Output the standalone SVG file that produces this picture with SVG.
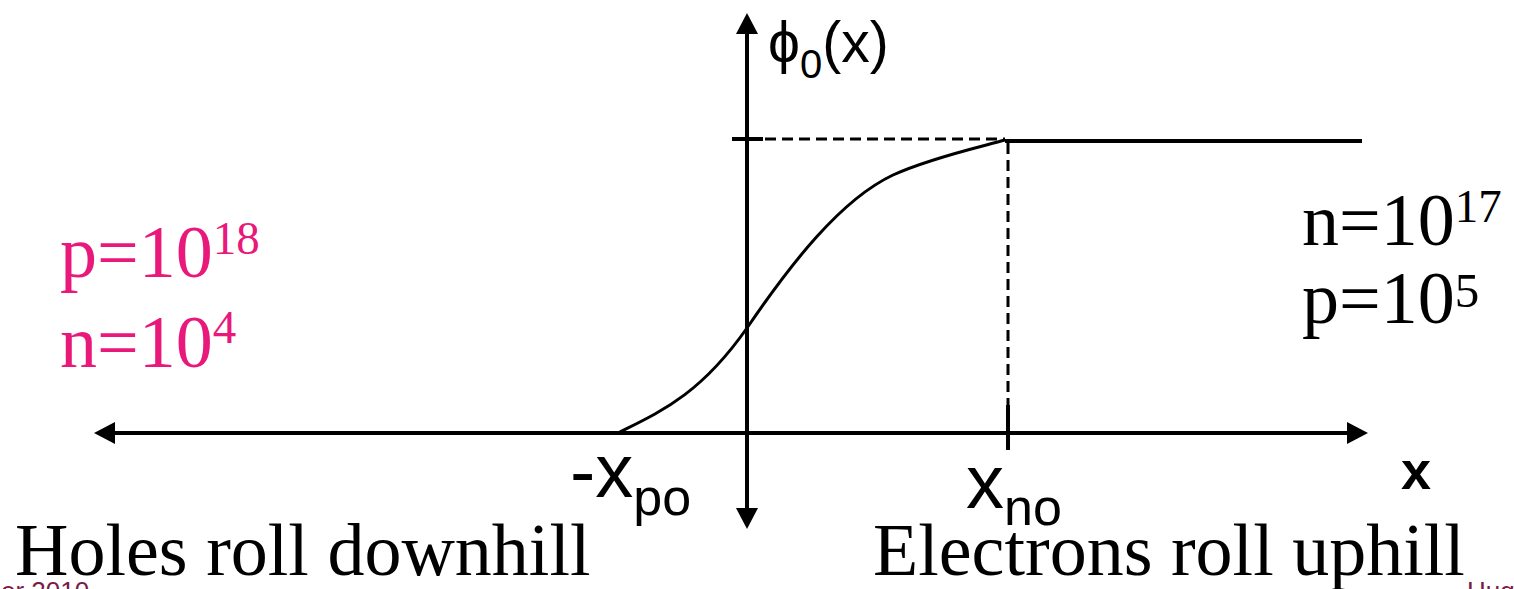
<svg xmlns="http://www.w3.org/2000/svg" width="1514" height="589" viewBox="0 0 1514 589">
<style>
.ax{stroke:#000;stroke-width:4;fill:none}
.crv{stroke:#000;stroke-width:3;fill:none}
.dash{stroke:#000;stroke-width:3;fill:none;stroke-dasharray:11 6}
.sans{font-family:"Liberation Sans",Arial,sans-serif;fill:#000}
.serif{font-family:"Liberation Serif","Times New Roman",serif;fill:#000}
.pink{fill:#E8197A}
.foot{font-family:"Liberation Sans",Arial,sans-serif;fill:#7A1A45;font-size:26px}
</style>
<defs>
<marker id="arr" markerUnits="userSpaceOnUse" markerWidth="22" markerHeight="22" refX="0" refY="11" orient="auto-start-reverse" viewBox="0 0 22 22">
<path d="M0,0 L21,11 L0,22 z" fill="#000"/>
</marker>
</defs>
<g id="connectors">
<line class="ax" x1="115" y1="433" x2="1347" y2="433" marker-start="url(#arr)" marker-end="url(#arr)"/>
<line class="ax" x1="747" y1="508" x2="747" y2="34" stroke-width="3.5" marker-start="url(#arr)" marker-end="url(#arr)"/>
<line class="ax" x1="732" y1="139" x2="763" y2="139"/>
<line class="dash" x1="765" y1="139" x2="1005" y2="139"/>
<line class="ax" x1="1005" y1="141" x2="1362" y2="141" stroke-width="3.5"/>
<line class="dash" x1="1008" y1="143" x2="1008" y2="405" stroke-dasharray="12 6"/>
<line class="ax" x1="1008" y1="405" x2="1008" y2="450"/>
<path class="crv" d="M618,433 C660,412 700,395 747,328 C790,265 840,200 893,175 C930,158 980,147 1005,140"/>
</g>
<g id="label-phi">
<text class="sans" x="768" y="62" font-size="57">ϕ<tspan font-size="40" dy="16">0</tspan><tspan dy="-16">(x)</tspan></text>
</g>
<g id="label-xpo">
<text class="sans" x="570" y="497" font-size="76">-x<tspan font-size="52" dy="18">po</tspan></text>
</g>
<g id="label-xno">
<text class="sans" x="966" y="508" font-size="76">x<tspan font-size="52" dy="17">no</tspan></text>
</g>
<g id="label-x">
<text class="sans" x="1401" y="489" font-size="54" font-weight="bold">x</text>
</g>
<g id="p-side">
<text class="serif pink" x="60" y="277" font-size="74">p=10<tspan font-size="47" dy="-23">18</tspan></text>
<text class="serif pink" x="60" y="367" font-size="74">n=10<tspan font-size="47" dy="-24">4</tspan></text>
</g>
<g id="n-side">
<text class="serif" x="1302" y="245" font-size="74">n=10<tspan font-size="47" dy="-23">17</tspan></text>
<text class="serif" x="1302" y="323" font-size="74">p=10<tspan font-size="49" dy="-16">5</tspan></text>
</g>
<g id="captions">
<text class="serif" x="15" y="575" font-size="74">Holes roll downhill</text>
<text class="serif" x="873" y="575" font-size="74">Electrons roll uphill</text>
</g>
<g id="footer">
<text class="foot" x="1" y="600">er 2010</text>
<text class="foot" x="1467" y="600">Hug</text>
</g>
</svg>
